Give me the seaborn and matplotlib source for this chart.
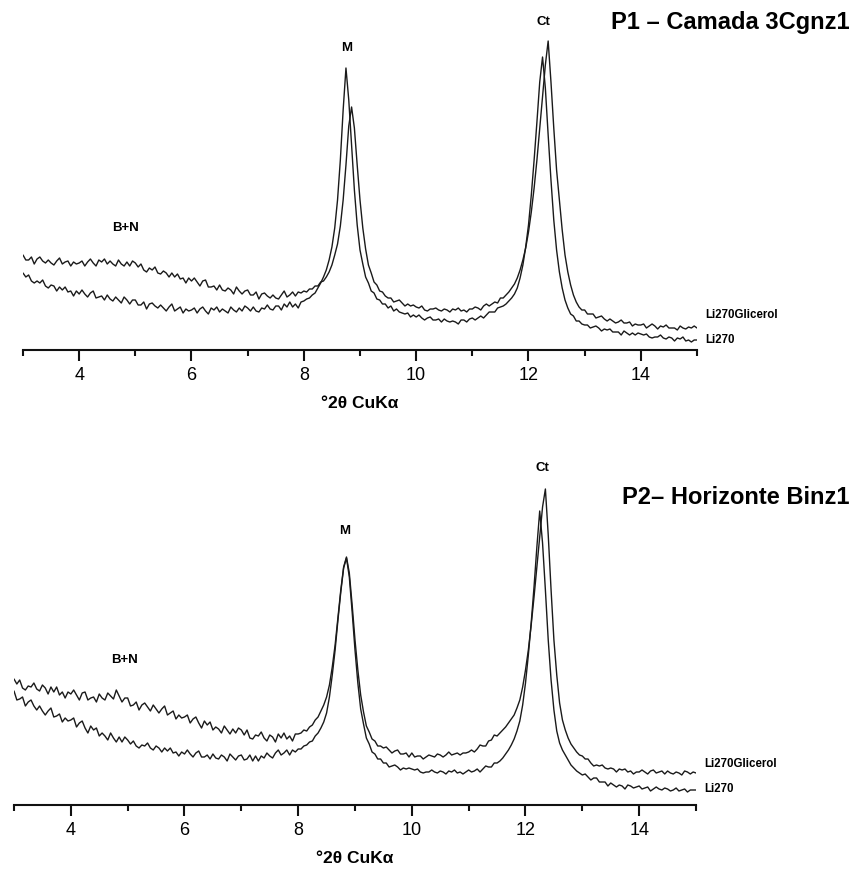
import numpy as np
import pandas as pd
import matplotlib
matplotlib.use("Agg")
import matplotlib.pyplot as plt
import seaborn as sns
from matplotlib.ticker import FixedLocator

# 2-theta scan grid (degrees), step 0.05
two_theta = np.round(np.arange(3.0, 15.0 + 1e-9, 0.05), 2)

# P1 - Camada 3Cgnz1 : intensities (arbitrary units), one row per degree
p1_li270 = [
    77, 73, 75, 69, 67, 69, 67, 70, 64, 62, 65, 64, 59, 63, 60, 63, 58, 59, 54, 59,
    56, 60, 56, 53, 57, 59, 52, 53, 54, 50, 55, 51, 49, 53, 50, 47, 53, 50, 46, 50,
    50, 45, 45, 48, 41, 46, 47, 44, 42, 45, 42, 39, 43, 46, 39, 41, 43, 37, 41, 39,
    40, 42, 37, 41, 43, 39, 36, 42, 40, 43, 38, 41, 39, 37, 43, 40, 38, 42, 39, 44,
    42, 39, 43, 39, 38, 42, 41, 45, 41, 40, 44, 44, 40, 46, 43, 48, 43, 46, 42, 48,
    49, 51, 52, 55, 57, 62, 67, 73, 80, 90, 103, 122, 150, 190, 240, 282, 250, 205, 160, 125,
    100, 86, 73, 67, 59, 57, 51, 50, 46, 46, 42, 44, 39, 41, 38, 37, 36, 37, 33, 35,
    33, 35, 32, 30, 32, 33, 30, 30, 31, 28, 31, 29, 28, 29, 28, 26, 30, 30, 28, 31,
    32, 30, 32, 34, 32, 35, 38, 38, 38, 42, 43, 44, 46, 49, 52, 56, 62, 72, 85, 103,
    125, 155, 190, 228, 268, 293, 262, 215, 170, 130, 100, 78, 62, 50, 42, 36, 34, 29, 29, 26,
    25, 25, 22, 23, 24, 22, 19, 21, 20, 21, 18, 18, 18, 15, 19, 17, 15, 17, 15, 17,
    16, 15, 16, 13, 12, 13, 13, 15, 12, 11, 13, 12, 9, 12, 11, 13, 9, 10, 8, 10,
    10,
]
p1_glicerol = [
    95, 90, 90, 93, 86, 91, 93, 89, 87, 90, 87, 85, 89, 92, 86, 88, 89, 84, 88, 86,
    87, 89, 84, 88, 91, 87, 84, 90, 88, 91, 86, 89, 86, 84, 90, 86, 84, 88, 84, 89,
    87, 83, 86, 80, 78, 82, 80, 83, 77, 76, 79, 77, 73, 77, 73, 76, 71, 72, 67, 72,
    69, 72, 68, 64, 69, 70, 63, 63, 64, 60, 65, 60, 59, 62, 60, 56, 63, 59, 56, 59,
    60, 55, 55, 58, 51, 56, 57, 54, 52, 55, 52, 51, 55, 59, 53, 55, 58, 54, 58, 57,
    59, 58, 61, 61, 64, 64, 68, 69, 73, 78, 85, 95, 106, 124, 150, 185, 224, 243, 222, 185,
    150, 122, 101, 85, 77, 68, 65, 59, 58, 54, 52, 52, 48, 49, 50, 47, 44, 46, 44, 45,
    43, 42, 44, 40, 39, 41, 41, 42, 40, 39, 41, 40, 38, 41, 40, 42, 39, 40, 38, 41,
    41, 43, 42, 40, 44, 46, 44, 46, 48, 47, 52, 52, 55, 58, 62, 66, 72, 80, 90, 102,
    118, 138, 162, 190, 222, 255, 285, 309, 268, 222, 180, 150, 120, 95, 78, 65, 55, 48, 43, 40,
    40, 36, 36, 36, 32, 33, 34, 31, 29, 31, 29, 27, 28, 30, 27, 27, 28, 24, 26, 25,
    25, 26, 22, 24, 26, 24, 21, 24, 23, 25, 22, 22, 22, 20, 24, 22, 21, 23, 22, 24,
    22,
]

# P2 - Horizonte Binz1
p2_li270 = [
    114, 105, 106, 108, 99, 103, 105, 99, 95, 99, 94, 90, 94, 97, 88, 89, 91, 83, 87, 84,
    85, 87, 78, 82, 84, 77, 72, 79, 75, 77, 69, 72, 69, 65, 72, 67, 63, 68, 63, 68,
    65, 61, 64, 59, 57, 60, 59, 62, 57, 55, 59, 57, 53, 57, 54, 57, 52, 53, 49, 53,
    51, 55, 51, 48, 52, 54, 48, 48, 50, 46, 51, 47, 46, 50, 48, 44, 51, 48, 45, 49,
    50, 45, 46, 50, 44, 49, 44, 49, 47, 52, 49, 47, 52, 55, 50, 52, 55, 50, 55, 53,
    56, 56, 59, 60, 63, 64, 69, 72, 77, 83, 92, 108, 130, 155, 185, 213, 237, 247, 228, 193,
    155, 122, 96, 81, 67, 61, 53, 51, 46, 46, 42, 42, 38, 39, 40, 38, 35, 37, 36, 37,
    36, 35, 36, 33, 32, 33, 33, 35, 33, 32, 34, 33, 31, 34, 33, 35, 32, 33, 31, 33,
    35, 33, 34, 36, 33, 36, 39, 38, 38, 42, 42, 44, 47, 51, 55, 60, 66, 74, 84, 100,
    122, 150, 182, 218, 258, 294, 262, 215, 165, 125, 95, 74, 62, 55, 50, 45, 40, 37, 34, 32,
    30, 31, 28, 25, 27, 27, 23, 23, 23, 19, 22, 20, 18, 20, 19, 16, 20, 19, 17, 18,
    19, 16, 17, 18, 14, 16, 18, 16, 15, 17, 16, 14, 15, 17, 14, 15, 16, 13, 15, 15,
    15,
]
p2_glicerol = [
    126, 121, 125, 117, 115, 119, 118, 122, 116, 114, 120, 117, 111, 118, 113, 118, 110, 113, 107, 113,
    111, 115, 110, 105, 112, 113, 105, 107, 108, 103, 111, 107, 105, 112, 109, 106, 115, 109, 103, 107,
    107, 99, 100, 103, 95, 100, 102, 98, 94, 100, 96, 92, 96, 99, 90, 92, 94, 86, 90, 87,
    88, 90, 82, 86, 88, 82, 77, 84, 80, 83, 75, 78, 76, 72, 79, 75, 71, 76, 72, 77,
    75, 70, 75, 67, 66, 70, 69, 73, 67, 64, 70, 68, 63, 71, 67, 72, 66, 69, 64, 71,
    71, 72, 75, 74, 78, 80, 85, 88, 94, 100, 108, 120, 138, 160, 188, 215, 238, 248, 232, 200,
    165, 135, 110, 93, 79, 73, 66, 64, 59, 59, 57, 58, 55, 52, 54, 55, 51, 51, 52, 48,
    52, 48, 49, 49, 46, 48, 50, 49, 48, 51, 50, 48, 50, 53, 50, 51, 52, 50, 52, 52,
    53, 55, 53, 56, 60, 59, 59, 64, 65, 70, 69, 72, 75, 78, 82, 86, 90, 97, 105, 118,
    135, 155, 180, 208, 238, 268, 298, 316, 270, 215, 165, 130, 102, 85, 75, 67, 61, 57, 53, 50,
    49, 46, 46, 42, 39, 40, 39, 40, 37, 36, 37, 36, 33, 36, 35, 36, 33, 34, 31, 33,
    33, 35, 33, 31, 34, 35, 32, 33, 34, 31, 34, 32, 31, 33, 32, 30, 34, 33, 31, 33,
    32,
]

major_ticks = [4, 6, 8, 10, 12, 14]
minor_ticks = [3, 5, 7, 9, 11, 13, 15]
series_names = ["Li270Glicerol", "Li270"]

sns.set_theme(style="white")
plt.rcParams["font.family"] = ["Liberation Sans", "DejaVu Sans"]
plt.rcParams["text.color"] = "black"
plt.rcParams["axes.labelcolor"] = "black"
plt.rcParams["xtick.color"] = "black"

W, H = 854, 877
fig = plt.figure(figsize=(W / 100, H / 100), dpi=100)
fig.patch.set_facecolor("white")

line_color = "#1a1a1a"


def draw_panel(rect, ymax, glicerol, li270, title, title_y, notes, end_labels):
    ax = fig.add_axes(rect)
    df = pd.DataFrame({
        "two_theta": np.concatenate([two_theta, two_theta]),
        "intensity": np.concatenate([glicerol, li270]),
        "amostra": np.repeat(series_names, len(two_theta)),
    })
    sns.lineplot(data=df, x="two_theta", y="intensity", units="amostra",
                 estimator=None, color=line_color, linewidth=1.0,
                 legend=False, ax=ax)
    ax.set_xlim(3, 15)
    ax.set_ylim(0, ymax)
    for side in ("top", "right", "left"):
        ax.spines[side].set_visible(False)
    ax.spines["bottom"].set_linewidth(1.5)
    ax.spines["bottom"].set_color("#111111")
    ax.set_yticks([])
    ax.set_ylabel("")
    ax.xaxis.set_major_locator(FixedLocator(major_ticks))
    ax.xaxis.set_minor_locator(FixedLocator(minor_ticks))
    ax.set_xticklabels([str(t) for t in major_ticks])
    ax.tick_params(axis="x", which="major", direction="out", length=8, width=1.5,
                   color="#111111", labelcolor="black", labelsize=13, pad=4,
                   bottom=True)
    ax.tick_params(axis="x", which="minor", direction="out", length=4, width=1.5,
                   color="#111111", bottom=True)
    ax.set_xlabel("°2θ CuKα", fontsize=12.5, fontweight="bold", labelpad=9,
                  color="black")
    for txt, x, y in notes:
        ax.text(x, y, txt, ha="center", va="center", fontsize=9.5,
                fontweight="bold", color="black", clip_on=False)
    for txt, x, y in end_labels:
        ax.text(x, y, txt, ha="left", va="center", fontsize=8.3,
                fontweight="bold", color="black", clip_on=False)
    fig.text(850 / W, 1 - title_y / H, title, ha="right", va="center",
             fontsize=17, fontweight="bold", color="black")
    return ax


draw_panel([23 / W, 1 - 350 / H, 674 / W, 320 / H], 320,
           p1_glicerol, p1_li270, "P1 – Camada 3Cgnz1", 22,
           [("M", 8.77, 302), ("Ct", 12.26, 328), ("B+N", 4.82, 122)],
           [("Li270Glicerol", 15.14, 35), ("Li270", 15.14, 10)])

draw_panel([14 / W, 1 - 805 / H, 682 / W, 340 / H], 340,
           p2_glicerol, p2_li270, "P2– Horizonte Binz1", 497,
           [("M", 8.82, 274), ("Ct", 12.30, 337), ("B+N", 4.95, 145)],
           [("Li270Glicerol", 15.15, 41), ("Li270", 15.15, 16)])

fig.savefig("out.png", dpi=100, facecolor="white")
